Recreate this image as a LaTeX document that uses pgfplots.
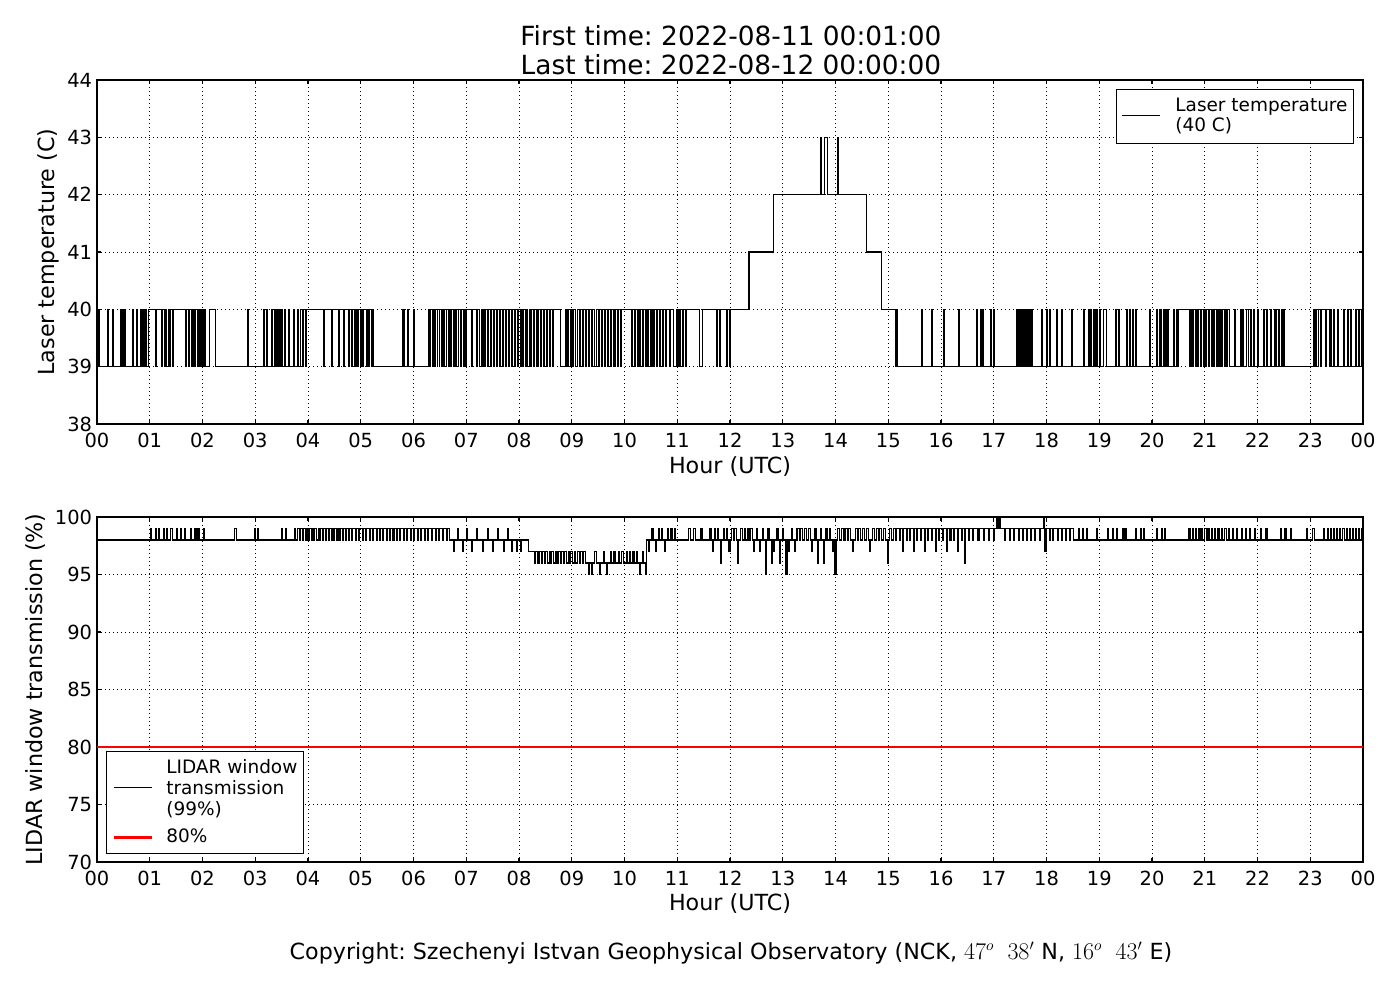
\documentclass[border=0pt]{standalone}
\usepackage{fontspec}
\setmainfont{DejaVu Sans}
\usepackage{pgfplots}
\pgfplotsset{compat=1.18}
\frenchspacing
\pgfplotsset{
  myaxis/.style={
    scale only axis, width=911.52pt,
    xmin=0, xmax=24,
    xtick={0,1,...,24},
    xticklabels={00,01,02,03,04,05,06,07,08,09,10,11,12,13,14,15,16,17,18,19,20,21,22,23,00},
    tick align=inside, major tick length=3.2pt,
    tick style={black, line width=0.8pt},
    axis line style={line width=0.8pt},
    grid=major,
    major grid style={black, line width=0.5pt, dash pattern=on 0.72pt off 2.16pt},
    tick label style={font=\fontsize{14}{16}\selectfont},
    /pgf/number format/assume math mode=true,
    xticklabel style={anchor=base, yshift=-16.8pt},
    label style={font=\fontsize{16}{19}\selectfont},
    xlabel={Hour (UTC)},
    legend cell align=left,
  },
  imgtop/.style={legend image code/.code={\draw[##1,overlay] (0pt,-7.2pt) -- (27.4pt,-7.2pt); \path[draw=none,fill=none] (0pt,0pt) -- (38.2pt,0pt);}},
  imgtopbase/.style={legend image code/.code={\path[draw=none,fill=none] (0pt,0pt) -- (38.2pt,0pt);}},
  imgbot/.style={legend image code/.code={\draw[##1] (0pt,0pt) -- (27.4pt,0pt); \path[draw=none,fill=none] (0pt,0pt) -- (37.5pt,0pt);}},
}
\begin{document}
\begin{tikzpicture}
\path[use as bounding box] (0pt,0pt) rectangle (1008pt,720pt);

% ---------------- top axis ----------------
\begin{axis}[myaxis,
  at={(69.84pt,414.72pt)}, anchor=south west,
  height=247.68pt,
  ymin=38, ymax=44, ytick={38,39,...,44},
  ylabel={Laser temperature (C)},
  ylabel style={at={(axis description cs:-0.0332,0.5)}, anchor=base},
  xlabel style={at={(axis description cs:0.5,-0.1453)}, anchor=base},
  imgtopbase,
  legend style={at={(rel axis cs:0.9929,0.9738)}, anchor=north east,
    draw=black, line width=0.7pt, font=\fontsize{13.3}{15.1}\selectfont,
    inner xsep=4.3pt, inner ysep=4.1pt, row sep=0pt, column sep=0pt,
    nodes={inner sep=0pt, text height=12.05pt, text depth=2.35pt},
    cells={anchor=west}},
]
\addplot[const plot, black, line width=0.75pt, imgtop] coordinates {
(0,39)(0.02,40)(0.04,39)(0.20,40)(0.22,39)(0.30,40)(0.32,39)(0.44,40)(0.46,39)(0.48,40)(0.50,39)(0.52,40)(0.54,39)
(0.68,40)(0.70,39)(0.75,40)(0.77,39)(0.82,40)(0.84,39)(0.87,40)(0.89,39)(0.91,40)(0.93,39)(0.97,40)
(1.10,39)(1.12,40)
(1.23,39)(1.25,40)(1.28,39)(1.30,40)(1.32,39)(1.35,40)(1.38,39)(1.40,40)(1.43,39)(1.45,40)
(1.67,39)(1.69,40)(1.73,39)(1.75,40)(1.80,39)(1.82,40)(1.85,39)(1.87,40)(1.90,39)(1.92,40)(1.95,39)(1.96,40)(1.98,39)(2.00,40)(2.02,39)(2.04,40)(2.06,39)
(2.14,40)(2.24,39)
(2.86,40)(2.88,39)
(3.16,40)(3.18,39)(3.22,40)(3.24,39)
(3.31,40)(3.33,39)(3.36,40)(3.38,39)(3.40,40)(3.42,39)(3.45,40)(3.47,39)(3.49,40)(3.51,39)
(3.56,40)(3.58,39)(3.63,40)(3.65,39)(3.72,40)(3.74,39)
(3.80,40)(3.82,39)(3.85,40)(3.90,39)(3.92,40)(3.96,39)(3.98,40)
(4.30,39)(4.32,40)(4.45,39)(4.47,40)(4.58,39)(4.60,40)(4.68,39)(4.70,40)(4.77,39)(4.79,40)(4.83,39)(4.85,40)
(4.89,39)(4.91,40)(4.94,39)(4.96,40)(4.99,39)(5.01,40)(5.04,39)(5.06,40)(5.10,39)(5.12,40)(5.15,39)(5.17,40)(5.20,39)
(5.22,40)(5.25,39)
(5.80,40)(5.82,39)(5.89,40)(5.91,39)(6.00,40)(6.02,39)
(6.28,40)(6.31,39)(6.33,40)(6.36,39)(6.37,40)(6.40,39)(6.42,40)(6.45,39)(6.46,40)(6.49,39)(6.50,40)(6.53,39)(6.55,40)(6.57,39)(6.59,40)(6.62,39)(6.63,40)(6.66,39)(6.68,40)(6.70,39)(6.72,40)(6.75,39)(6.77,40)(6.80,39)(6.82,40)(6.85,39)(6.86,40)(6.89,39)(6.91,40)(6.94,39)(6.96,40)(6.99,39)(7.01,40)
(7.10,39)(7.12,40)(7.20,39)(7.22,40)(7.26,39)(7.28,40)
(7.30,39)(7.32,40)(7.35,39)(7.37,40)(7.40,39)(7.42,40)(7.46,39)(7.48,40)(7.52,39)(7.54,40)(7.57,39)(7.59,40)(7.63,39)(7.65,40)(7.69,39)(7.71,40)(7.75,39)(7.77,40)(7.80,39)(7.82,40)(7.86,39)(7.88,40)(7.92,39)(7.94,40)(7.97,39)(7.99,40)
(8.02,39)(8.04,40)(8.07,39)(8.09,40)(8.12,39)(8.14,40)(8.17,39)(8.19,40)(8.22,39)(8.24,40)(8.28,39)(8.30,40)(8.34,39)(8.36,40)(8.40,39)(8.42,40)(8.46,39)(8.48,40)(8.52,39)(8.54,40)(8.58,39)(8.60,40)(8.64,39)(8.66,40)
(8.78,39)(8.88,40)
(8.91,39)(8.93,40)(8.97,39)(8.99,40)(9.02,39)(9.04,40)(9.08,39)(9.10,40)(9.14,39)(9.16,40)(9.20,39)(9.22,40)(9.26,39)(9.28,40)(9.32,39)(9.34,40)(9.38,39)(9.40,40)(9.44,39)(9.46,40)(9.50,39)(9.52,40)(9.56,39)(9.58,40)(9.62,39)(9.64,40)(9.68,39)(9.70,40)(9.74,39)(9.76,40)(9.80,39)(9.82,40)(9.86,39)(9.88,40)(9.92,39)(9.94,40)
(10.14,39)(10.16,40)(10.19,39)(10.21,40)(10.24,39)(10.26,40)(10.29,39)(10.31,40)(10.34,39)(10.36,40)(10.39,39)(10.41,40)(10.44,39)(10.46,40)(10.49,39)(10.51,40)(10.54,39)(10.56,40)(10.60,39)(10.62,40)(10.66,39)(10.68,40)(10.72,39)(10.74,40)(10.78,39)(10.80,40)(10.85,39)(10.87,40)
(10.92,39)(10.98,40)(11.00,39)(11.02,40)(11.05,39)(11.07,40)(11.10,39)(11.12,40)(11.15,39)(11.17,40)
(11.43,39)(11.48,40)
(11.75,39)(11.77,40)(11.80,39)(11.82,40)(11.94,39)(11.96,40)(11.99,39)(12.01,40)
(12.36,41)(12.82,42)
(13.72,43)(13.74,42)(13.80,43)(13.84,42)(14.04,43)(14.06,42)
(14.59,41)(14.87,40)
(15.13,39)(15.15,40)(15.17,39)
(15.63,40)(15.65,39)(15.82,40)(15.84,39)(16.04,40)(16.06,39)(16.33,40)(16.35,39)(16.68,40)(16.70,39)(16.74,40)(16.76,39)(16.79,40)(16.81,39)(16.93,40)(16.95,39)(16.99,40)(17.01,39)
(17.43,40)(17.45,39)(17.47,40)(17.49,39)(17.51,40)(17.53,39)(17.55,40)(17.57,39)(17.59,40)(17.61,39)(17.63,40)(17.65,39)(17.67,40)(17.69,39)(17.71,40)(17.73,39)
(17.91,40)(17.93,39)(18.00,40)(18.02,39)(18.05,40)(18.07,39)(18.19,40)(18.21,39)(18.29,40)(18.31,39)(18.48,40)(18.50,39)(18.70,40)(18.72,39)
(18.79,40)(18.81,39)(18.84,40)(18.86,39)(18.90,40)(18.92,39)(18.95,40)(18.97,39)(19.01,40)(19.03,39)
(19.08,40)(19.14,39)
(19.30,40)(19.32,39)(19.36,40)(19.38,39)(19.52,40)(19.54,39)(19.58,40)(19.60,39)(19.63,40)(19.65,39)(19.68,40)(19.70,39)(19.96,40)(19.98,39)
(20.09,40)(20.11,39)(20.15,40)(20.17,39)(20.21,40)(20.23,39)(20.25,40)(20.27,39)(20.30,40)(20.32,39)(20.40,40)(20.42,39)(20.46,40)(20.48,39)
(20.50,40)(20.72,39)(20.74,40)(20.77,39)(20.79,40)(20.82,39)(20.84,40)(20.87,39)(20.89,40)(20.92,39)(20.94,40)(20.97,39)(20.99,40)(21.02,39)(21.04,40)(21.07,39)(21.09,40)(21.12,39)(21.14,40)(21.17,39)(21.19,40)(21.22,39)(21.24,40)(21.27,39)(21.29,40)(21.32,39)(21.34,40)(21.37,39)(21.39,40)(21.42,39)(21.44,40)(21.47,39)
(21.57,40)(21.59,39)(21.67,40)(21.69,39)(21.72,40)(21.74,39)
(21.80,40)(21.82,39)(21.86,40)(21.88,39)(21.92,40)(21.94,39)(22.00,40)(22.02,39)
(22.11,40)(22.13,39)(22.17,40)(22.19,39)(22.25,40)(22.27,39)
(22.33,40)(22.35,39)(22.39,40)(22.41,39)(22.45,40)(22.47,39)(22.50,40)(22.52,39)
(23.06,40)(23.08,39)(23.10,40)(23.12,39)(23.15,40)(23.20,39)(23.22,40)(23.28,39)(23.30,40)(23.36,39)(23.38,40)(23.40,39)
(23.44,40)(23.46,39)(23.51,40)(23.53,39)
(23.63,40)(23.65,39)(23.70,40)(23.72,39)(23.77,40)(23.79,39)
(23.85,40)(23.87,39)(23.92,40)(23.94,39)(23.97,40)(23.99,39)(24.00,39)
};
\addlegendentry{Laser temperature}
\addlegendimage{empty legend}
\addlegendentry[text depth=4.15pt]{(40 C)}
\end{axis}

% ---------------- bottom axis ----------------
\begin{axis}[myaxis,
  at={(69.84pt,99.36pt)}, anchor=south west,
  height=248.4pt,
  ymin=70, ymax=100, ytick={70,75,...,100},
  ylabel={LIDAR window transmission (\%)},
  ylabel style={at={(axis description cs:-0.0434,0.5)}, anchor=base},
  xlabel style={at={(axis description cs:0.5,-0.142)}, anchor=base},
  imgbot,
  legend style={at={(rel axis cs:0.0071,0.0232)}, anchor=south west,
    draw=black, line width=0.7pt, font=\fontsize{13.3}{15.1}\selectfont,
    inner xsep=4.6pt, inner ysep=3.1pt, row sep=0pt, column sep=0pt,
    nodes={inner sep=0pt, text height=12.4pt, text depth=2.7pt},
    cells={anchor=west}},
]
\addlegendimage{empty legend}
\addlegendentry{LIDAR window}
\addplot[const plot, black, line width=0.75pt] coordinates {
(0,98)
(1.01,99)(1.03,98)(1.10,99)(1.12,98)(1.16,99)(1.18,98)
(1.26,99)(1.28,98)(1.32,99)(1.34,98)(1.40,99)(1.43,98)
(1.51,99)(1.53,98)(1.58,99)(1.60,98)(1.66,99)(1.68,98)
(1.77,99)(1.79,98)(1.84,99)(1.86,98)(1.88,99)(1.90,98)(1.92,99)(1.94,98)
(2.02,99)(2.04,98)
(2.61,99)(2.64,98)
(2.99,99)(3.01,98)(3.05,99)(3.07,98)
(3.50,99)(3.52,98)(3.58,99)(3.60,98)
(3.75,99)(3.77,98)(3.80,99)(3.84,98)(3.86,99)(3.90,98)(3.92,99)(3.95,98)(3.97,99)(4.00,98)(4.02,99)(4.06,98)(4.08,99)(4.11,98)(4.13,99)(4.17,98)(4.19,99)(4.22,98)(4.24,99)(4.27,98)(4.29,99)(4.33,98)(4.35,99)(4.38,98)(4.40,99)(4.44,98)(4.46,99)(4.49,98)(4.51,99)(4.55,98)(4.57,99)(4.60,98)(4.62,99)(4.66,98)(4.68,99)(4.71,98)(4.73,99)(4.77,98)(4.79,99)(4.83,98)(4.85,99)(4.90,98)(4.92,99)(4.96,98)(4.98,99)
(5.03,98)(5.05,99)(5.09,98)(5.11,99)(5.16,98)(5.18,99)(5.22,98)(5.24,99)(5.29,98)(5.31,99)(5.35,98)(5.37,99)(5.42,98)(5.44,99)(5.48,98)(5.50,99)(5.55,98)(5.57,99)(5.61,98)(5.63,99)(5.68,98)(5.70,99)(5.74,98)(5.76,99)(5.81,98)(5.83,99)(5.87,98)(5.89,99)(5.94,98)(5.96,99)
(6.00,98)(6.02,99)(6.07,98)(6.09,99)(6.13,98)(6.15,99)(6.20,98)(6.22,99)(6.27,98)(6.29,99)(6.34,98)(6.36,99)(6.41,98)(6.43,99)(6.48,98)(6.50,99)(6.55,98)(6.57,99)(6.62,98)(6.64,99)(6.69,98)
(6.76,97)(6.78,98)(6.84,99)(6.86,98)(6.92,97)(6.94,98)(7.00,99)(7.02,98)(7.10,97)(7.12,98)(7.20,99)(7.22,98)(7.30,97)(7.32,98)(7.40,99)(7.42,98)(7.50,97)(7.52,98)(7.60,99)(7.62,98)(7.70,97)(7.72,98)(7.78,99)(7.80,98)(7.86,97)(7.88,98)(7.95,97)(7.97,98)(8.03,97)(8.05,98)
(8.18,97)(8.30,96)(8.32,97)(8.36,96)(8.38,97)(8.42,96)(8.45,97)(8.48,96)(8.50,97)(8.54,96)(8.57,97)(8.60,96)(8.62,97)(8.66,96)(8.69,97)(8.72,96)(8.74,97)(8.78,96)(8.81,97)(8.84,96)(8.86,97)(8.90,96)(8.93,97)(8.96,96)(8.98,97)
(9.02,96)(9.05,97)(9.08,96)(9.10,97)(9.14,96)(9.17,97)(9.20,96)(9.22,97)(9.26,96)(9.32,95)(9.34,96)(9.38,95)(9.40,96)(9.44,97)(9.46,96)(9.53,95)(9.55,96)(9.60,97)(9.62,96)(9.66,95)(9.68,96)(9.74,97)(9.76,96)(9.80,97)(9.82,96)(9.88,97)(9.90,96)(9.95,97)(9.98,96)
(10.04,97)(10.06,96)(10.10,97)(10.12,96)(10.16,97)(10.18,96)(10.22,97)(10.24,96)(10.29,95)(10.31,96)(10.34,97)(10.36,96)(10.40,95)(10.42,98)
(10.46,97)(10.48,98)(10.52,99)(10.54,98)(10.58,97)(10.60,98)(10.64,99)(10.66,98)(10.70,99)(10.72,98)(10.76,97)(10.78,98)(10.82,99)(10.84,98)(10.88,99)(10.90,98)(10.95,99)(10.97,98)
(11.22,99)(11.26,98)(11.30,99)(11.35,98)(11.45,99)(11.47,98)
(11.62,99)(11.64,98)(11.66,97)(11.68,98)(11.71,99)(11.73,98)(11.76,99)(11.79,98)(11.82,96)(11.84,98)(11.87,99)(11.90,98)(11.93,99)(11.96,98)(11.98,97)(12.00,98)
(12.03,99)(12.06,98)(12.09,99)(12.12,98)(12.15,96)(12.17,98)(12.20,99)(12.24,98)(12.27,99)(12.30,98)(12.33,99)(12.36,98)(12.39,99)(12.42,98)(12.45,97)(12.47,98)(12.50,99)(12.53,98)(12.56,97)(12.58,98)(12.61,99)(12.64,98)(12.67,95)(12.69,98)(12.72,99)(12.75,98)(12.78,96)(12.80,98)(12.83,97)(12.85,98)(12.88,99)(12.91,98)(12.94,96)(12.96,98)(12.99,99)
(13.02,98)(13.06,95)(13.08,98)(13.11,97)(13.13,98)(13.16,99)(13.19,98)(13.22,97)(13.24,98)(13.27,99)(13.31,98)(13.34,99)(13.38,98)(13.41,99)(13.45,98)(13.48,99)(13.52,98)(13.55,97)(13.57,98)(13.60,99)(13.63,98)(13.66,96)(13.68,98)(13.71,99)(13.74,98)(13.77,96)(13.79,98)(13.82,99)(13.85,98)(13.88,99)(13.91,98)(13.94,97)(13.96,98)(13.99,95)
(14.01,98)(14.04,99)(14.08,98)(14.11,99)(14.15,98)(14.18,99)(14.22,98)(14.25,99)(14.29,98)(14.32,97)(14.34,98)(14.37,99)(14.41,98)(14.44,99)(14.48,98)(14.51,99)(14.55,98)(14.58,99)(14.62,98)(14.65,97)(14.67,98)(14.70,99)(14.74,98)(14.77,99)(14.81,98)(14.84,99)(14.88,98)(14.91,99)(14.95,98)(14.98,96)
(15.00,98)(15.03,99)(15.07,98)(15.10,99)(15.14,98)(15.16,99)(15.21,98)(15.23,99)(15.27,97)(15.29,99)(15.34,98)(15.36,99)(15.41,98)(15.43,99)(15.47,97)(15.49,99)(15.54,98)(15.56,99)(15.61,98)(15.63,99)(15.68,97)(15.70,99)(15.75,98)(15.77,99)(15.82,98)(15.84,99)(15.89,97)(15.91,99)(15.96,98)(15.98,99)
(16.03,98)(16.05,99)(16.10,97)(16.12,99)(16.17,98)(16.19,99)(16.24,98)(16.26,99)(16.31,97)(16.33,99)(16.38,98)(16.40,99)(16.44,96)(16.46,99)(16.52,98)(16.54,99)(16.60,98)(16.62,99)(16.70,98)(16.72,99)(16.80,98)(16.82,99)(16.90,98)(16.92,99)
(17.00,98)(17.02,99)(17.06,100)(17.08,99)(17.11,100)(17.13,99)
(17.20,98)(17.22,99)(17.30,98)(17.32,99)(17.38,98)(17.40,99)(17.47,98)(17.49,99)(17.55,98)(17.57,99)(17.62,98)(17.64,99)(17.70,98)(17.72,99)(17.78,98)(17.80,99)(17.86,98)(17.88,99)
(17.95,100)(17.97,97)(17.99,99)
(18.05,98)(18.07,99)(18.12,98)(18.14,99)(18.20,98)(18.22,99)(18.28,98)(18.30,99)(18.36,98)(18.38,99)(18.44,98)(18.46,99)(18.52,98)
(18.60,99)(18.62,98)(18.68,99)(18.70,98)(18.76,99)(18.78,98)(18.95,99)(18.97,98)
(19.16,99)(19.18,98)(19.25,99)(19.27,98)(19.33,99)(19.35,98)(19.45,99)(19.47,98)(19.50,99)(19.52,98)(19.68,99)(19.70,98)(19.78,99)(19.80,98)(19.84,99)(19.86,98)
(20.09,99)(20.11,98)(20.18,99)(20.20,98)(20.24,99)(20.26,98)
(20.70,99)(20.72,98)(20.76,99)(20.79,98)(20.82,99)(20.84,98)(20.88,99)(20.91,98)(20.94,99)(20.96,98)
(21.00,99)(21.03,98)(21.06,99)(21.08,98)(21.12,99)(21.15,98)(21.18,99)(21.20,98)(21.25,99)(21.27,98)(21.32,99)(21.34,98)(21.38,99)(21.41,98)(21.45,99)(21.47,98)(21.52,99)(21.54,98)(21.60,99)(21.62,98)(21.70,99)(21.72,98)(21.78,99)(21.80,98)(21.85,99)(21.87,98)
(21.95,99)(21.97,98)(22.05,99)(22.08,98)(22.15,99)(22.18,98)
(22.44,99)(22.46,98)(22.52,99)(22.54,98)(22.62,99)(22.64,98)
(22.92,99)(22.94,98)(23.04,99)(23.08,98)
(23.25,99)(23.27,98)(23.32,99)(23.34,98)(23.38,99)(23.40,98)(23.44,99)(23.46,98)(23.50,99)(23.52,98)(23.56,99)(23.58,98)(23.62,99)(23.64,98)(23.68,99)(23.70,98)(23.74,99)(23.76,98)(23.80,99)(23.82,98)(23.86,99)(23.88,98)(23.92,99)(23.94,98)(23.97,99)(24,98)
};
\addlegendentry{transmission}
\addlegendimage{empty legend}
\addlegendentry[text depth=7.04pt]{(99\%)}
\addplot[red, line width=2pt] coordinates {(0,80) (24,80)};
\addlegendentry[text depth=4.86pt]{80\%}
\end{axis}

% titles and footer
\node[anchor=base, font=\fontsize{19}{23}\selectfont] at (526.32pt,686.88pt) {First time: 2022-08-11 00:01:00};
\node[anchor=base, font=\fontsize{19}{23}\selectfont] at (526.32pt,666pt) {Last time: 2022-08-12 00:00:00};
\node[anchor=base, font=\fontsize{16}{19}\selectfont] at (526.32pt,29.52pt) {Copyright: Szechenyi Istvan Geophysical Observatory (NCK, $47^o\;\;38'$ N, $16^o\;\;43'$ E)};
\end{tikzpicture}
\end{document}
